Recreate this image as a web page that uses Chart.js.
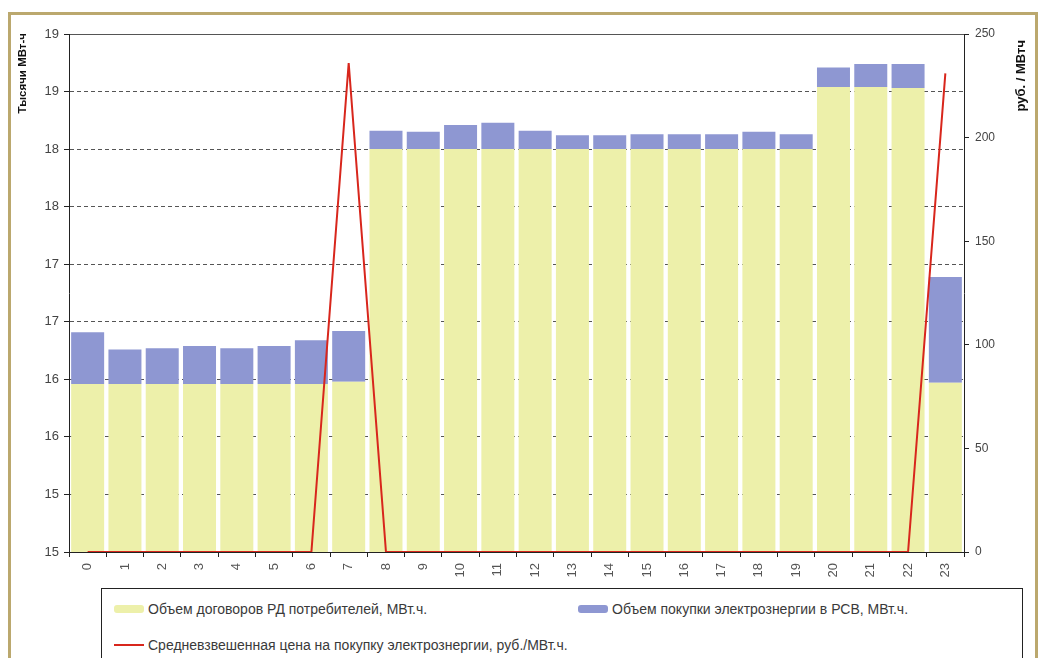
<!DOCTYPE html>
<html>
<head>
<meta charset="utf-8">
<script src="https://cdn.jsdelivr.net/npm/chart.js@4"></script>
<style>
  body { margin: 0; background: #fff; font-family: "Liberation Sans", Arial, sans-serif; }
  #wrap { position: relative; width: 1039px; height: 658px; overflow: hidden; }
  #frame { position: absolute; left: 8px; top: 12px; width: 1030px; height: 700px; border: 3px solid #bba86e; box-sizing: border-box; }
  #chart { position: absolute; left: 0; top: 0; }
  #legend { position: absolute; left: 101px; top: 588px; width: 922px; height: 100px; border: 1px solid #222; box-sizing: border-box; background: #fff;
    padding: 10px 0 0 12px; display: grid; grid-template-columns: 464px auto; grid-auto-rows: 36px; align-items: start; }
  .item { display: flex; align-items: center; height: 20px; font-size: 14px; color: #3a3a3a; }
  .sw { width: 30px; margin-right: 4px; flex: none; }
</style>
</head>
<body>
<div id="wrap">
  <div id="frame"></div>
  <canvas id="chart" width="1039" height="658"></canvas>
  <div id="legend"></div>
</div>
<script>
const hours = ["0","1","2","3","4","5","6","7","8","9","10","11","12","13","14","15","16","17","18","19","20","21","22","23"]

// тыс. МВт.ч
const rdVolume = [16.06,16.06,16.06,16.06,16.06,16.06,16.06,16.08,18.10,18.10,18.10,18.10,18.10,18.10,18.10,18.10,18.10,18.10,18.10,18.10,18.64,18.64,18.63,16.07]
const rsvVolume = [0.45,0.30,0.31,0.33,0.31,0.33,0.38,0.44,0.16,0.15,0.21,0.23,0.16,0.12,0.12,0.13,0.13,0.13,0.15,0.13,0.17,0.20,0.21,0.92]
// руб./МВт.ч
const price = [0,0,0,0,0,0,0,236,0,0,0,0,0,0,0,0,0,0,0,0,0,0,0,231]

const leftTickValues = [14.6,15.1,15.6,16.1,16.6,17.1,17.6,18.1,18.6,19.1]
const leftTickLabels = ["15","15","16","16","17","17","18","18","19","19"]
const rightTicks = [0,50,100,150,200,250]

const labels = {
  rd: "Объем договоров РД потребителей, МВт.ч.",
  rsv: "Объем покупки электрознергии в РСВ, МВт.ч.",
  price: "Средневзвешенная цена на покупку электрознергии, руб./МВт.ч."
}

Chart.defaults.font.family = '"Liberation Sans", Arial, sans-serif'
Chart.defaults.font.size = 12
Chart.defaults.color = "#444"

const axisTitles = {
  id: "axisTitles",
  afterDraw(chart) {
    const ctx = chart.ctx
    ctx.save()
    ctx.fillStyle = "#111"
    ctx.textAlign = "right"
    ctx.textBaseline = "middle"
    ;[[23, 33, "Тысячи МВт-ч", 11.5], [1021, 40, "руб. / МВтч", 13]].forEach(([x, y, t, size]) => {
      ctx.save()
      ctx.font = 'bold ' + size + 'px "Liberation Sans", Arial, sans-serif'
      ctx.translate(x, y)
      ctx.rotate(-Math.PI / 2)
      ctx.fillText(t, 0, 0)
      ctx.restore()
    })
    ctx.restore()
  }
}

const chart = new Chart(document.getElementById("chart"), {
  type: "bar",
  data: {
    labels: hours,
    datasets: [
      { label: labels.rd, data: rdVolume, backgroundColor: "#edf0aa", yAxisID: "y", stack: "v", order: 1,
        barPercentage: 0.885, categoryPercentage: 1 },
      { label: labels.rsv, data: rsvVolume, backgroundColor: "#8e97d2", yAxisID: "y", stack: "v", order: 1,
        barPercentage: 0.885, categoryPercentage: 1 },
      { type: "line", label: labels.price, data: price, borderColor: "#d8261c", borderWidth: 2, pointRadius: 0,
        tension: 0, yAxisID: "y1", order: 0, fill: false }
    ]
  },
  options: {
    responsive: false,
    animation: false,
    layout: { padding: { top: 34, left: 0, right: 0, bottom: 0 } },
    plugins: { legend: { display: false }, tooltip: { enabled: false } },
    scales: {
      x: {
        stacked: true,
        grid: { display: true, drawOnChartArea: false, drawTicks: true, tickLength: 5, tickColor: "#222", offset: true },
        border: { color: "#222", width: 1 },
        ticks: { maxRotation: 90, minRotation: 90, padding: 6, color: "#555", autoSkip: false, font: { size: 13 } },
        afterFit(s) { s.height = 106 }
      },
      y: {
        position: "left",
        stacked: true,
        min: 14.6,
        max: 19.1,
        afterBuildTicks(s) { s.ticks = leftTickValues.map(v => ({ value: v })) },
        afterFit(s) { s.width = 69 },
        ticks: { padding: 5, callback: (v, i) => leftTickLabels[i], color: "#444", font: { size: 13 } },
        grid: { color: "#555", lineWidth: 1, tickLength: 5, tickColor: "#222", tickBorderDash: [] },
        border: { color: "#222", width: 1, dash: ctx => (ctx.index === leftTickValues.length - 1 ? [] : [4, 3]) }
      },
      y1: {
        position: "right",
        min: 0,
        max: 250,
        afterBuildTicks(s) { s.ticks = rightTicks.map(v => ({ value: v })) },
        afterFit(s) { s.width = 75 },
        ticks: { padding: 6, color: "#444" },
        grid: { drawOnChartArea: false, tickLength: 5, tickColor: "#222" },
        border: { color: "#222", width: 1 }
      }
    }
  },
  plugins: [axisTitles]
})

// легенда в рамке под графиком
const legend = document.getElementById("legend")
chart.data.datasets.forEach(ds => {
  const item = document.createElement("div")
  item.className = "item"
  const sw = document.createElement("span")
  sw.className = "sw"
  if (ds.type === "line") {
    sw.style.height = "2px"
    sw.style.background = ds.borderColor
  } else {
    sw.style.height = "8px"
    sw.style.borderRadius = "3px"
    sw.style.background = ds.backgroundColor
  }
  const txt = document.createElement("span")
  txt.innerText = ds.label
  item.appendChild(sw)
  item.appendChild(txt)
  legend.appendChild(item)
})
</script>
</body>
</html>
